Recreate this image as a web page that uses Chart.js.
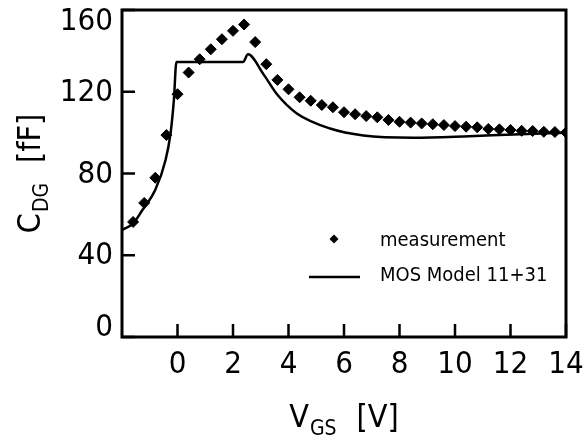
<!DOCTYPE html>
<html>
<head>
<meta charset="utf-8">
<script src="https://cdn.jsdelivr.net/npm/chart.js@4.4.0/dist/chart.umd.min.js"></script>
<style>
  html, body { margin: 0; padding: 0; background: #fff; }
</style>
</head>
<body>
<canvas id="c" width="587" height="437"></canvas>
<script>
// measured C_DG [fF] vs V_GS [V], 0.4 V steps
var measV = [-1.6, -1.2, -0.8, -0.4, 0.0, 0.4, 0.8, 1.2, 1.6, 2.0,
             2.4, 2.8, 3.2, 3.6, 4.0, 4.4, 4.8, 5.2, 5.6, 6.0,
             6.4, 6.8, 7.2, 7.6, 8.0, 8.4, 8.8, 9.2, 9.6, 10.0,
             10.4, 10.8, 11.2, 11.6, 12.0, 12.4, 12.8, 13.2, 13.6, 14.0];
var measC = [56.3, 65.6, 77.9, 98.8, 118.8, 129.4, 135.9, 140.8, 145.7, 149.8,
             152.9, 144.3, 133.5, 125.8, 121.2, 117.3, 115.6, 113.5, 112.4, 110.0,
             109.0, 108.1, 107.5, 106.2, 105.3, 104.9, 104.5, 104.1, 103.7, 103.2,
             102.9, 102.6, 101.8, 101.6, 101.3, 100.9, 100.8, 100.4, 100.3, 100.1];

// MOS Model 11+31 simulation
var modelV = [-2.0, -1.6, -1.27, -0.8, -0.43, -0.25, -0.13, -0.04, 2.36, 2.54,
              3.1, 3.6, 4.3, 5.5, 6.7, 8.5, 10.3, 12.1, 14.0];
var modelC = [52.3, 55.6, 62.0, 72.0, 86.6, 99.7, 116.0, 134.5, 134.5, 138.3,
              128.5, 118.5, 109.4, 102.0, 98.6, 97.5, 98.1, 99.1, 100.0];

var xTicks = [0, 2, 4, 6, 8, 10, 12, 14];
var yTicks = [0, 40, 80, 120, 160];

var seriesNames = ['measurement', 'MOS Model 11+31'];

var FONT = '"DejaVu Sans Condensed", "Liberation Sans Narrow", sans-serif';

function pts(xs, ys) {
  return xs.map(function(x, i) { return { x: x, y: ys[i] }; });
}

// frame, inward ticks, y labels, axis titles with subscripts, legend
var decor = {
  id: 'decor',
  afterDraw: function(chart) {
    var ctx = chart.ctx;
    var a = chart.chartArea;
    var xs = chart.scales.x, ys = chart.scales.y;
    ctx.save();
    ctx.strokeStyle = '#000';
    ctx.fillStyle = '#000';

    // tick marks pointing into the plot
    ctx.lineWidth = 2.5;
    ctx.beginPath();
    xTicks.forEach(function(v) {
      var px = xs.getPixelForValue(v);
      ctx.moveTo(px, a.bottom);
      ctx.lineTo(px, a.bottom - 13);
    });
    yTicks.forEach(function(v) {
      var py = ys.getPixelForValue(v);
      ctx.moveTo(a.left, py);
      ctx.lineTo(a.left + 13, py);
    });
    ctx.stroke();

    // frame
    ctx.lineWidth = 3;
    ctx.strokeRect(a.left, a.top, a.right - a.left, a.bottom - a.top);

    // y tick labels, kept inside the frame's height
    ctx.font = '31px ' + FONT;
    ctx.textAlign = 'right';
    ctx.textBaseline = 'middle';
    yTicks.forEach(function(v) {
      var py = ys.getPixelForValue(v);
      py = Math.max(a.top + 11, Math.min(a.bottom - 10, py));
      ctx.fillText(String(v), a.left - 9, py + 1);
    });

    // x axis title: V_GS [V]
    ctx.textAlign = 'left';
    ctx.textBaseline = 'alphabetic';
    var big = '32px ' + FONT, small = '21px ' + FONT;
    ctx.font = big; var w1 = ctx.measureText('V').width;
    ctx.font = small; var w2 = ctx.measureText('GS').width;
    ctx.font = big; var w3 = ctx.measureText('[V]').width;
    var gap = 20;
    var tot = w1 + 1 + w2 + gap + w3;
    var x0 = (a.left + a.right) / 2 - tot / 2;
    ctx.font = big; ctx.fillText('V', x0, 427);
    ctx.font = small; ctx.fillText('GS', x0 + w1 + 1, 435);
    ctx.font = big; ctx.fillText('[V]', x0 + w1 + 1 + w2 + gap, 427);

    // y axis title: C_DG [fF]
    ctx.save();
    ctx.translate(40, (a.top + a.bottom) / 2);
    ctx.rotate(-Math.PI / 2);
    ctx.font = big; var c1 = ctx.measureText('C').width;
    ctx.font = small; var c2 = ctx.measureText('DG').width;
    ctx.font = big; var c3 = ctx.measureText('[fF]').width;
    var tot2 = c1 + 1 + c2 + gap + c3;
    var y0 = -tot2 / 2;
    ctx.font = big; ctx.fillText('C', y0, 0);
    ctx.font = small; ctx.fillText('DG', y0 + c1 + 1, 8);
    ctx.font = big; ctx.fillText('[fF]', y0 + c1 + 1 + c2 + gap, 0);
    ctx.restore();

    // legend inside plot
    var lx = a.left + 187, ly = a.top + 229;
    ctx.font = '20px ' + FONT;
    ctx.textBaseline = 'middle';
    ctx.beginPath();
    ctx.moveTo(lx + 25 - 4.5, ly);
    ctx.lineTo(lx + 25, ly - 4.5);
    ctx.lineTo(lx + 25 + 4.5, ly);
    ctx.lineTo(lx + 25, ly + 4.5);
    ctx.closePath();
    ctx.fill();
    ctx.fillText(chart.data.datasets[0].label, lx + 71, ly + 2);
    ctx.lineWidth = 2.5;
    ctx.beginPath();
    ctx.moveTo(lx, ly + 38);
    ctx.lineTo(lx + 51, ly + 38);
    ctx.stroke();
    ctx.fillText(chart.data.datasets[1].label, lx + 71, ly + 37);

    ctx.restore();
  }
};

var ctx = document.getElementById('c').getContext('2d');
var chart = new Chart(ctx, {
  type: 'scatter',
  data: {
    datasets: [
      {
        label: seriesNames[0],
        data: pts(measV, measC),
        pointStyle: 'rectRot',
        pointRadius: 5.5,
        backgroundColor: '#000',
        borderColor: '#000',
        borderWidth: 1
      },
      {
        label: seriesNames[1],
        data: pts(modelV, modelC),
        showLine: true,
        pointRadius: 0,
        borderColor: '#000',
        borderWidth: 2.5,
        cubicInterpolationMode: 'monotone'
      }
    ]
  },
  options: {
    responsive: false,
    animation: false,
    devicePixelRatio: 1,
    layout: { padding: { left: 0, top: 10, right: 21, bottom: 0 } },
    plugins: { legend: { display: false }, tooltip: { enabled: false } },
    scales: {
      x: {
        type: 'linear',
        min: -2, max: 14,
        grid: { display: false, drawTicks: false },
        border: { display: false },
        ticks: {
          stepSize: 2,
          padding: 9,
          color: '#000',
          font: { family: FONT, size: 31 },
          maxRotation: 0,
          callback: function(v) { return xTicks.indexOf(v) >= 0 ? String(v) : ''; }
        },
        afterFit: function(s) { s.height = 100; s.paddingLeft = 0; s.paddingRight = 0; }
      },
      y: {
        type: 'linear',
        min: 0, max: 160,
        grid: { display: false, drawTicks: false },
        border: { display: false },
        ticks: { stepSize: 40, display: false },
        afterFit: function(s) { s.width = 122; s.paddingTop = 0; s.paddingBottom = 0; }
      }
    }
  },
  plugins: [decor]
});
</script>
</body>
</html>
